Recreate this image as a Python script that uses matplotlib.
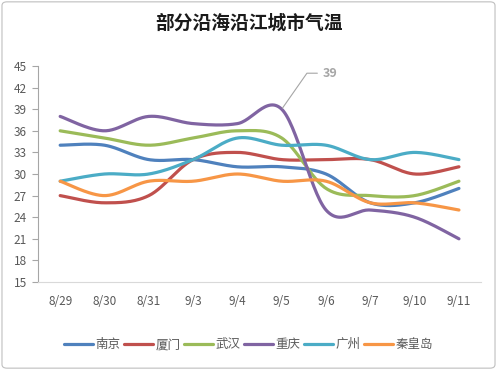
import numpy as np
import matplotlib
matplotlib.use('Agg')
import matplotlib.pyplot as plt
from matplotlib.patches import FancyBboxPatch

plt.rcParams['font.family'] = ['Noto Sans CJK SC', 'DejaVu Sans']

dates = ['8/29', '8/30', '8/31', '9/3', '9/4', '9/5', '9/6', '9/7', '9/10', '9/11']
nanjing = [34, 34, 32, 32, 31, 31, 30, 26, 26, 28]
xiamen = [27, 26, 27, 32, 33, 32, 32, 32, 30, 31]
wuhan = [36, 35, 34, 35, 36, 35, 28, 27, 27, 29]
chongqing = [38, 36, 38, 37, 37, 39, 25, 25, 24, 21]
guangzhou = [29, 30, 30, 32, 35, 34, 34, 32, 33, 32]
qinhuangdao = [29, 27, 29, 29, 30, 29, 29, 26, 26, 25]

names = ['南京', '厦门', '武汉', '重庆', '广州', '秦皇岛']
series = [nanjing, xiamen, wuhan, chongqing, guangzhou, qinhuangdao]
colors = ['#4F81BD', '#C0504D', '#9BBB59', '#8064A2', '#4BACC6', '#F79646']


def smooth(x, y, n=30):
    # excel-like smoothing: cubic bezier with catmull-rom control points
    x = np.asarray(x, float)
    y = np.asarray(y, float)
    px = np.concatenate([[x[0]], x, [x[-1]]])
    py = np.concatenate([[y[0]], y, [y[-1]]])
    xs, ys = [], []
    t = np.linspace(0, 1, n)
    for i in range(1, len(px) - 2):
        p0 = np.array([px[i], py[i]])
        p3 = np.array([px[i + 1], py[i + 1]])
        c1 = p0 + (np.array([px[i + 1], py[i + 1]]) - np.array([px[i - 1], py[i - 1]])) / 6
        c2 = p3 - (np.array([px[i + 2], py[i + 2]]) - np.array([px[i], py[i]])) / 6
        b = ((1 - t) ** 3)[:, None] * p0 + (3 * (1 - t) ** 2 * t)[:, None] * c1 \
            + (3 * (1 - t) * t ** 2)[:, None] * c2 + (t ** 3)[:, None] * p3
        xs.append(b[:, 0])
        ys.append(b[:, 1])
    return np.concatenate(xs), np.concatenate(ys)


fig = plt.figure(figsize=(4.97, 3.70), dpi=100)
fig.patches.append(FancyBboxPatch((0.004, 0.005), 0.992, 0.99, boxstyle='round,pad=0,rounding_size=0.01',
                                  transform=fig.transFigure, fill=False, edgecolor='#BFBFBF', lw=0.8))
ax = fig.add_axes([0.0765, 0.2378, 0.8915, 0.5838])

x = np.arange(len(dates))
for vals, name, c in zip(series, names, colors):
    sx, sy = smooth(x, vals)
    ax.plot(sx, sy, color=c, lw=2.3, label=name, solid_capstyle='round')

ax.set_xlim(-0.5, len(dates) - 0.5)
ax.set_ylim(15, 45)
ax.set_yticks(range(15, 46, 3))
ax.set_xticks(x)
ax.set_xticklabels(dates)
for s in ['top', 'right']:
    ax.spines[s].set_visible(False)
ax.spines['left'].set_color('#A6A6A6')
ax.spines['bottom'].set_color('#D9D9D9')
ax.tick_params(axis='y', colors='#A6A6A6', labelcolor='#595959', labelsize=8.5, length=4, width=0.8, pad=4)
ax.tick_params(axis='x', length=0, labelcolor='#595959', labelsize=8.5, pad=9)

# label on chongqing peak
i = 5
ax.annotate(str(chongqing[i]), xy=(i, chongqing[i]), xytext=(i + 0.93, chongqing[i] + 5.0),
            fontsize=9, color='#A6A6A6', fontweight='bold', va='center',
            arrowprops=dict(arrowstyle='-', color='#A6A6A6', lw=0.8,
                            connectionstyle='angle,angleA=0,angleB=55,rad=0', shrinkA=2, shrinkB=1))

fig.text(0.5, 0.938, '部分沿海沿江城市气温', ha='center', va='center', fontsize=13.5,
         fontweight='bold', color='#1A1A1A')

fig.legend(loc='center', bbox_to_anchor=(0.5, 0.068), ncol=6, frameon=False, fontsize=9,
           handlelength=2.3, handletextpad=0.2, columnspacing=0.3, labelcolor='#595959')

fig.savefig('out.png', dpi=100)
